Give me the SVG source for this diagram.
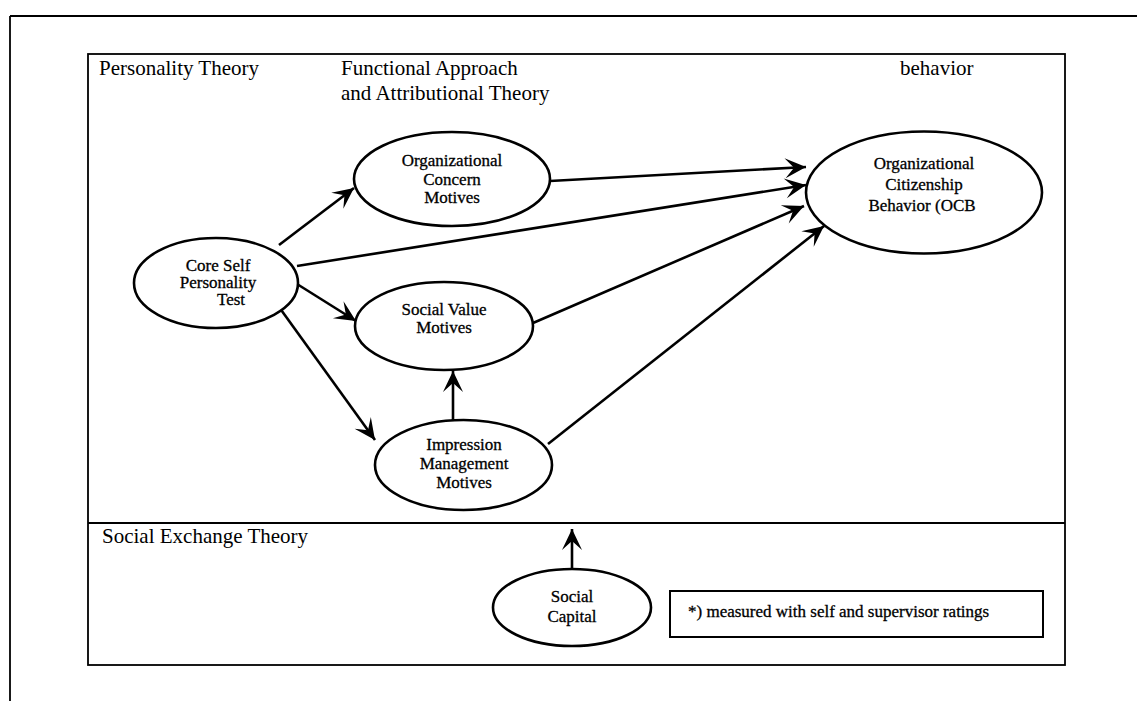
<svg xmlns="http://www.w3.org/2000/svg" width="1137" height="701" viewBox="0 0 1137 701">
  <style>
    .frame { fill: none; stroke: #000; stroke-width: 1.8; }
    .node { fill: #fff; stroke: #000; stroke-width: 2.6; }
    .conn { fill: none; stroke: #000; stroke-width: 2.6; marker-end: url(#arrow); }
    .hdr { font-family: "Liberation Serif", "Times New Roman", serif; font-size: 21px; fill: #000; }
    .lbl { font-family: "Liberation Serif", "Times New Roman", serif; font-size: 17px; fill: #000; text-anchor: middle; stroke: #000; stroke-width: 0.3; }
    .note { font-family: "Liberation Serif", "Times New Roman", serif; font-size: 17px; fill: #000; stroke: #000; stroke-width: 0.3; }
  </style>
  <defs>
    <marker id="arrow" markerUnits="userSpaceOnUse" viewBox="-23 -12 25 24" refX="0" refY="0" markerWidth="25" markerHeight="24" orient="auto">
      <path d="M0,0 L-21,-10 L-12,0 L-21,10 Z" fill="#000"/>
    </marker>
  </defs>
  <rect width="1137" height="701" fill="#fff"/>

  <!-- outer page frame -->
  <g id="outer-frame">
    <line x1="10" y1="16" x2="1137" y2="16" class="frame"/>
    <line x1="10" y1="16" x2="10" y2="701" class="frame"/>
  </g>

  <!-- inner diagram frame -->
  <g id="inner-frame">
    <rect x="88" y="54" width="977" height="611" class="frame"/>
    <line x1="88" y1="523" x2="1065" y2="523" class="frame"/>
  </g>

  <!-- section headers -->
  <g id="headers">
    <text class="hdr" x="99" y="75">Personality Theory</text>
    <text class="hdr" x="341" y="75">Functional Approach</text>
    <text class="hdr" x="341" y="100">and Attributional Theory</text>
    <text class="hdr" x="900" y="75">behavior</text>
    <text class="hdr" x="102" y="543">Social Exchange Theory</text>
  </g>

  <!-- connectors -->
  <g id="connectors">
    <path class="conn" d="M279,245 L354,188"/>
    <path class="conn" d="M550,181 L806,167"/>
    <path class="conn" d="M297,266 L806,185"/>
    <path class="conn" d="M533,323 L804,206"/>
    <path class="conn" d="M548,444 L824,226"/>
    <path class="conn" d="M297,284 L356,321"/>
    <path class="conn" d="M279,307 L375,440"/>
    <path class="conn" d="M453,421 L453,371"/>
    <path class="conn" d="M572,569 L572,529"/>
  </g>

  <g id="node-core-self">
    <ellipse cx="216" cy="283" rx="82" ry="45" class="node"/>
    <text class="lbl" x="218" y="271">Core Self</text>
    <text class="lbl" x="218" y="288">Personality</text>
    <text class="lbl" x="231" y="305">Test</text>
  </g>

  <g id="node-org-concern">
    <ellipse cx="452" cy="179" rx="98" ry="47" class="node"/>
    <text class="lbl" x="452" y="166">Organizational</text>
    <text class="lbl" x="452" y="185">Concern</text>
    <text class="lbl" x="452" y="203">Motives</text>
  </g>

  <g id="node-social-value">
    <ellipse cx="444" cy="326" rx="89" ry="44" class="node"/>
    <text class="lbl" x="444" y="315">Social Value</text>
    <text class="lbl" x="444" y="333">Motives</text>
  </g>

  <g id="node-impression">
    <ellipse cx="463.5" cy="465" rx="88.5" ry="45" class="node"/>
    <text class="lbl" x="464" y="450">Impression</text>
    <text class="lbl" x="464" y="469">Management</text>
    <text class="lbl" x="464" y="488">Motives</text>
  </g>

  <g id="node-ocb">
    <ellipse cx="924" cy="192.5" rx="118" ry="61" class="node"/>
    <text class="lbl" x="924" y="169">Organizational</text>
    <text class="lbl" x="924" y="190">Citizenship</text>
    <text class="lbl" x="922" y="211">Behavior  (OCB</text>
  </g>

  <g id="node-social-capital">
    <ellipse cx="572" cy="607.5" rx="79" ry="38.5" class="node"/>
    <text class="lbl" x="572" y="602">Social</text>
    <text class="lbl" x="572" y="622">Capital</text>
  </g>

  <g id="note">
    <rect x="670" y="591" width="373" height="46" fill="#fff" stroke="#000" stroke-width="2"/>
    <text class="note" x="688" y="617">*) measured with self and supervisor ratings</text>
  </g>
</svg>
